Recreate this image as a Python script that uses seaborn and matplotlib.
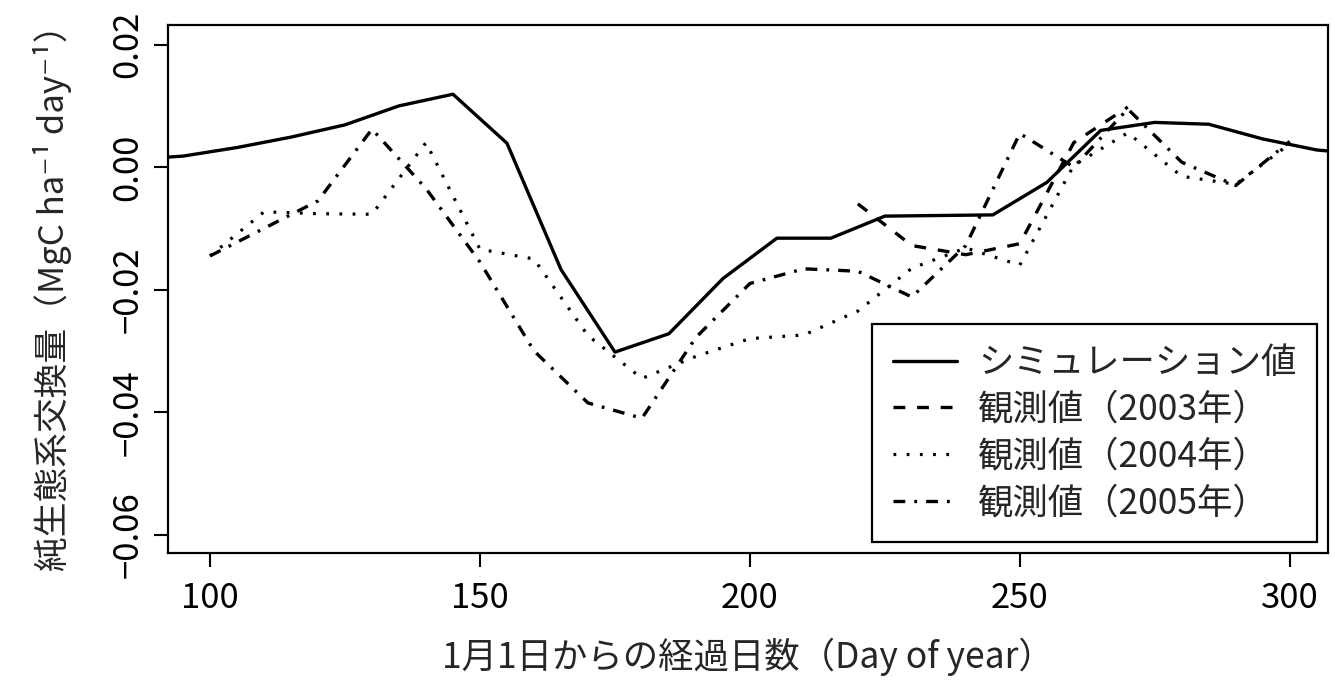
import matplotlib
matplotlib.use("Agg")
import matplotlib.pyplot as plt
from matplotlib.lines import Line2D
import seaborn as sns
import pandas as pd

# ---- data ----
sim_day = [85, 95, 105, 115, 125, 135, 145, 155, 165, 175, 185, 195, 205, 215,
           225, 235, 245, 255, 265, 275, 285, 295, 305, 315]
sim_val = [0.0012, 0.0018, 0.0032, 0.0049, 0.0069, 0.0100, 0.0119, 0.0039,
           -0.0167, -0.0302, -0.0272, -0.0182, -0.0116, -0.0116, -0.0080,
           -0.0079, -0.0078, -0.0025, 0.0060, 0.0073, 0.0070, 0.0046, 0.0028,
           0.0020]

obs2003_day = [220, 230, 240, 250, 260, 270]
obs2003_val = [-0.0060, -0.0128, -0.0143, -0.0125, 0.0040, 0.0098]

obs2004_day = [100, 110, 120, 130, 140, 150, 160, 170, 180, 190, 200, 210,
               220, 230, 240, 250, 260, 270, 280, 290, 300]
obs2004_val = [-0.0145, -0.0073, -0.0076, -0.0077, 0.0040, -0.0134, -0.0150,
               -0.0275, -0.0345, -0.0309, -0.0280, -0.0274, -0.0235, -0.0165,
               -0.0132, -0.0160, 0.0003, 0.0056, -0.0015, -0.0028, 0.0038]

obs2005_day = [100, 110, 120, 130, 140, 150, 160, 170, 180, 190, 200, 210,
               220, 230, 240, 250, 260, 270, 280, 290, 300]
obs2005_val = [-0.0145, -0.0100, -0.0055, 0.0062, -0.0035, -0.0155, -0.0300,
               -0.0385, -0.0410, -0.0278, -0.0190, -0.0166, -0.0170, -0.0212,
               -0.0128, 0.0055, 0.0000, 0.0095, 0.0008, -0.0030, 0.0042]

series_labels = ["シミュレーション値", "観測値（2003年）", "観測値（2004年）", "観測値（2005年）"]
x_ticks = [100, 150, 200, 250, 300]
y_ticks = [-0.06, -0.04, -0.02, 0.00, 0.02]
y_tick_labels = ["\u22120.06", "\u22120.04", "\u22120.02", "0.00", "0.02"]
x_label = "1月1日からの経過日数（Day of year）"
y_label = "純生態系交換量（MgC ha\u207b\u00b9 day\u207b\u00b9）"

# ---- style ----
sns.set_style("ticks")
plt.rcParams["font.family"] = ["Noto Sans CJK JP", "DejaVu Sans"]
plt.rcParams["lines.scale_dashes"] = False
plt.rcParams["axes.unicode_minus"] = True

fig = plt.figure(figsize=(13.35, 6.91), dpi=100)
ax = fig.add_axes([0.1258, 0.1997, 0.9948 - 0.1258, 0.9638 - 0.1997])

styles = [
    dict(linestyle="-", linewidth=2.4),
    dict(linestyle=(0, (8.5, 8.5)), linewidth=2.4),
    dict(linestyle=(0, (2.0, 7.5)), linewidth=2.3),
    dict(linestyle=(0, (8.5, 6.5, 2.0, 6.5)), linewidth=2.4),
]
frames = [
    (sim_day, sim_val),
    (obs2003_day, obs2003_val),
    (obs2004_day, obs2004_val),
    (obs2005_day, obs2005_val),
]
handles = []
for (d, v), st, lab in zip(frames, styles, series_labels):
    df = pd.DataFrame({"day": d, "val": v})
    sns.lineplot(data=df, x="day", y="val", ax=ax, color="black",
                 estimator=None, legend=False, **st)
    handles.append(Line2D([], [], color="black", **st))

ax.set_xlim(92.2, 307.1)
ax.set_ylim(-0.063, 0.0232)
ax.set_xticks(x_ticks)
ax.set_xticklabels([str(t) for t in x_ticks])
ax.set_yticks(y_ticks)
ax.set_yticklabels(y_tick_labels, rotation=90, va="center")

for sp in ax.spines.values():
    sp.set_linewidth(1.6)
    sp.set_color("black")
ax.tick_params(axis="both", which="major", length=10, width=1.5,
               direction="out", labelsize=25, colors="black", pad=6)
ax.tick_params(axis="x", pad=10)

ax.set_xlabel(x_label, fontsize=25.5, labelpad=16)
ax.set_ylabel(y_label, fontsize=25, labelpad=28)

leg = ax.legend(handles, series_labels, loc="lower right", fontsize=25.5,
                frameon=True, fancybox=False, framealpha=1,
                edgecolor="black", handlelength=1.8, handletextpad=0.6,
                labelspacing=0.3, borderpad=0.6, borderaxespad=0.3)
leg.get_frame().set_linewidth(1.6)

fig.savefig("out.png", dpi=100, facecolor="white")
